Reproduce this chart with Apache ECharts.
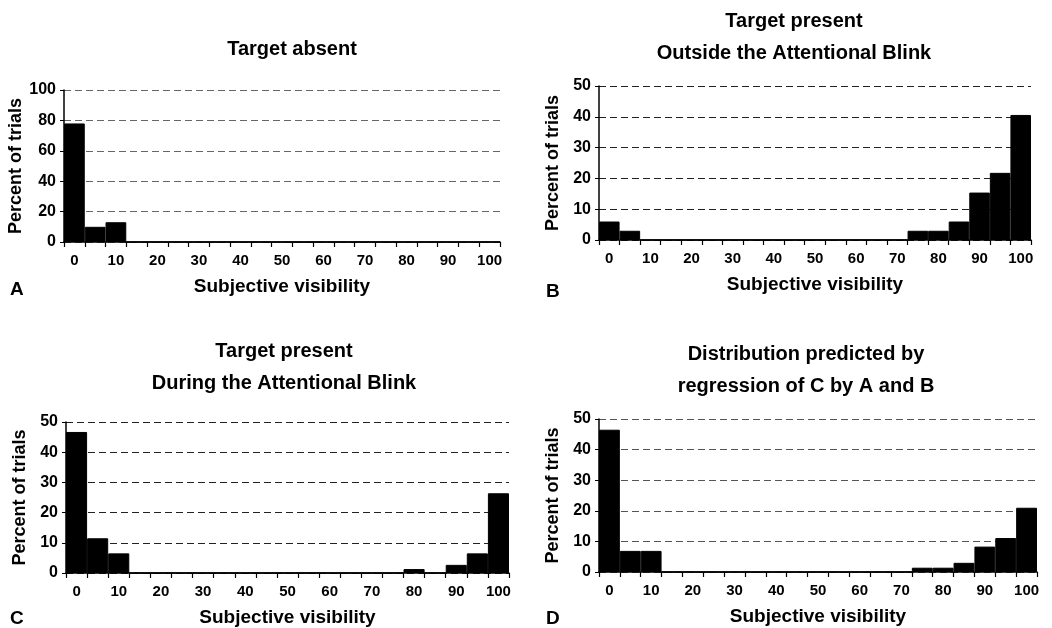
<!DOCTYPE html>
<html>
<head>
<meta charset="utf-8">
<script src="https://cdn.jsdelivr.net/npm/echarts@6/dist/echarts.min.js"></script>
<style>
  html, body { margin: 0; padding: 0; background: #fff; }
  #chart { width: 1052px; height: 628px; }
</style>
</head>
<body>
<div id="chart"></div>
<script>
// bins of subjective visibility (21 bins, labelled every 10)
const bins = ['0', '5', '10', '15', '20', '25', '30', '35', '40', '45', '50',
  '55', '60', '65', '70', '75', '80', '85', '90', '95', '100'];

// percent of trials per bin
const targetAbsent = [78, 10, 13, 0, 0, 0, 0, 0, 0, 0, 0, 0, 0, 0, 0, 0, 0, 0, 0, 0, 0];
const outsideBlink = [6, 3, 0, 0, 0, 0, 0, 0, 0, 0, 0, 0, 0, 0, 0, 3, 3, 6, 15.4, 21.8, 40.6];
const duringBlink = [46.7, 11.5, 6.5, 0, 0, 0, 0, 0, 0, 0, 0, 0, 0, 0, 0, 0, 1.3, 0, 2.7, 6.5, 26.4];
const predicted = [46.5, 6.9, 6.9, 0, 0, 0, 0, 0, 0, 0, 0, 0, 0, 0, 0, 1.4, 1.4, 3, 8.3, 11.1, 21];

const yMax = [100, 50, 50, 50];
const yStep = [20, 10, 10, 10];
const panelTitles = [
  'Target absent',
  'Target present\nOutside the Attentional Blink',
  'Target present\nDuring the Attentional Blink',
  'Distribution predicted by\nregression of C by A and B'
];
const panelLetters = ['A', 'B', 'C', 'D'];

const FONT = '"Liberation Sans", Arial, sans-serif';
const chart = echarts.init(document.getElementById('chart'));

const grids = [
  { left: 64, top: 90, width: 436, height: 152 },
  { left: 599, top: 86, width: 432, height: 154 },
  { left: 66, top: 422, width: 443, height: 151 },
  { left: 599, top: 419, width: 438, height: 153 }
];
const gridColor = ['#666', '#222', '#222', '#555'];
const titlePos = [[287, 28], [789, 0], [279, 330], [801, 333]];
const letterPos = [[10, 280], [546, 282], [10, 609], [546, 609]];
const allData = [targetAbsent, outsideBlink, duringBlink, predicted];

const option = {
  animation: false,
  textStyle: { fontFamily: FONT },
  title: [],
  grid: grids,
  xAxis: [],
  yAxis: [],
  series: []
};

grids.forEach((g, i) => {
  option.title.push({
    text: panelTitles[i],
    left: titlePos[i][0],
    top: titlePos[i][1],
    textAlign: 'center',
    textStyle: { fontFamily: FONT, fontSize: 20, fontWeight: 'bold', color: '#000', lineHeight: 32 }
  });
  option.title.push({
    text: panelLetters[i],
    left: letterPos[i][0],
    top: letterPos[i][1],
    padding: 0,
    textStyle: { fontFamily: FONT, fontSize: 19, fontWeight: 'bold', color: '#000' }
  });
  option.xAxis.push({
    type: 'category',
    gridIndex: i,
    data: bins,
    boundaryGap: true,
    name: 'Subjective visibility',
    nameLocation: 'middle',
    nameGap: 35,
    nameTextStyle: { fontFamily: FONT, fontSize: 19, fontWeight: 'bold', color: '#000' },
    axisLine: { lineStyle: { color: '#000', width: 1.5 } },
    axisTick: { show: true, interval: 0, length: 5, lineStyle: { color: '#000', width: 1.2 } },
    axisLabel: { interval: 1, margin: 11, fontFamily: FONT, fontSize: 15, fontWeight: 'bold', color: '#000' },
    splitLine: { show: false }
  });
  option.yAxis.push({
    type: 'value',
    gridIndex: i,
    min: 0,
    max: yMax[i],
    interval: yStep[i],
    name: 'Percent of trials',
    nameLocation: 'middle',
    nameGap: 37,
    nameTextStyle: { fontFamily: FONT, fontSize: 18, fontWeight: 'bold', color: '#000' },
    axisLine: { show: true, lineStyle: { color: '#000', width: 1.5 } },
    axisTick: { show: true, length: 4, lineStyle: { color: '#000' } },
    axisLabel: { margin: 8, fontFamily: FONT, fontSize: 16, fontWeight: 'bold', color: '#000' },
    splitLine: { show: true, lineStyle: { color: gridColor[i], type: [7, 4], width: 1 } }
  });
  option.series.push({
    type: 'bar',
    xAxisIndex: i,
    yAxisIndex: i,
    data: allData[i],
    barCategoryGap: 0,
    itemStyle: { color: '#000', borderColor: '#000', borderWidth: 1 }
  });
});

chart.setOption(option);
</script>
</body>
</html>
